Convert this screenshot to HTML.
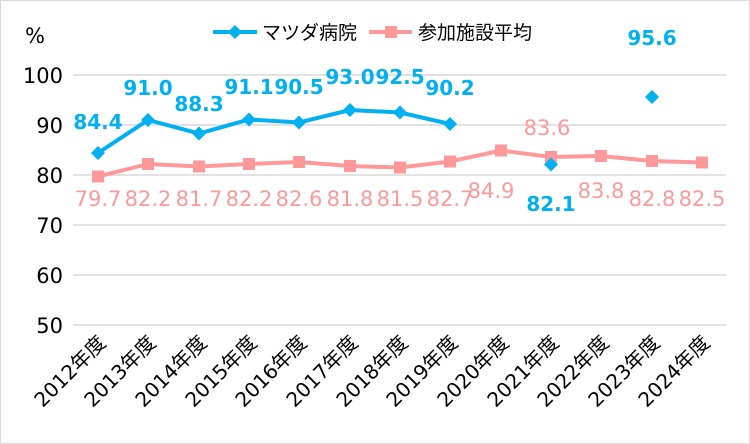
<!DOCTYPE html>
<html><head><meta charset="utf-8"><style>
html,body{margin:0;padding:0;background:#fff}
svg{display:block}
text{font-family:"DejaVu Sans","Noto Sans CJK JP",sans-serif}
</style></head><body>
<svg width="750" height="444" viewBox="0 0 750 444" xmlns="http://www.w3.org/2000/svg">
<rect x="0.5" y="0.5" width="749" height="443" fill="#fff" stroke="#d9d9d9"/>
<g stroke="#d9d9d9" stroke-width="1.5">
<line x1="73" y1="75" x2="726" y2="75"/><line x1="73" y1="125" x2="726" y2="125"/>
<line x1="73" y1="175" x2="726" y2="175"/><line x1="73" y1="225" x2="726" y2="225"/>
<line x1="73" y1="275" x2="726" y2="275"/><line x1="73" y1="325" x2="726" y2="325"/>
</g>
<g font-size="21" fill="#000" text-anchor="end">
<text x="63" y="83">100</text><text x="63" y="133">90</text><text x="63" y="183">80</text>
<text x="63" y="233">70</text><text x="63" y="283">60</text><text x="63" y="333">50</text>
<text x="45" y="43">%</text>
</g>
<!-- legend -->
<line x1="213" y1="32" x2="257" y2="32" stroke="#00b0f0" stroke-width="4"/>
<polygon points="235,25 242,32 235,39 228,32" fill="#00b0f0"/>
<text x="262" y="39" font-size="19">マツダ病院</text>
<line x1="369" y1="32" x2="412" y2="32" stroke="#ff9999" stroke-width="4"/>
<rect x="385" y="26" width="12" height="12" fill="#ff9999"/>
<text x="418" y="39" font-size="19">参加施設平均</text>
<!-- pink -->
<polyline fill="none" stroke="#ff9999" stroke-width="4" points="98,176.5 148,164 199,166.5 249,164 299,162 350,166 400,167.5 450,161.5 501,150.5 551,157 601,156 652,161 702,162.5"/>
<g fill="#ff9999">
<rect x="92" y="170.5" width="12" height="12"/><rect x="142" y="158" width="12" height="12"/><rect x="193" y="160.5" width="12" height="12"/><rect x="243" y="158" width="12" height="12"/><rect x="293" y="156" width="12" height="12"/><rect x="344" y="160" width="12" height="12"/><rect x="394" y="161.5" width="12" height="12"/><rect x="444" y="155.5" width="12" height="12"/><rect x="495" y="144.5" width="12" height="12"/><rect x="545" y="151" width="12" height="12"/><rect x="595" y="150" width="12" height="12"/><rect x="646" y="155" width="12" height="12"/><rect x="696" y="156.5" width="12" height="12"/>
</g>
<g fill="#ff9999" font-size="21" text-anchor="middle">
<text x="98" y="206">79.7</text><text x="148" y="206">82.2</text><text x="199" y="206">81.7</text><text x="249" y="206">82.2</text><text x="299" y="206">82.6</text><text x="350" y="206">81.8</text><text x="400" y="206">81.5</text><text x="450" y="206">82.7</text><text x="491" y="198">84.9</text><text x="547" y="135">83.6</text><text x="601" y="198">83.8</text><text x="652" y="206">82.8</text><text x="702" y="206">82.5</text>
</g>
<!-- blue -->
<polyline fill="none" stroke="#00b0f0" stroke-width="4" points="98,153 148,120 199,133.5 249,119.5 299,122.5 350,110 400,112.5 450,124"/>
<g fill="#00b0f0">
<polygon points="98,146 105,153 98,160 91,153"/><polygon points="148,113 155,120 148,127 141,120"/><polygon points="199,126.5 206,133.5 199,140.5 192,133.5"/><polygon points="249,112.5 256,119.5 249,126.5 242,119.5"/><polygon points="299,115.5 306,122.5 299,129.5 292,122.5"/><polygon points="350,103 357,110 350,117 343,110"/><polygon points="400,105.5 407,112.5 400,119.5 393,112.5"/><polygon points="450,117 457,124 450,131 443,124"/><polygon points="551,157.5 558,164.5 551,171.5 544,164.5"/><polygon points="652,90 659,97 652,104 645,97"/>
</g>
<g fill="#00b0f0" font-size="20" font-weight="bold" text-anchor="middle">
<text x="98" y="129">84.4</text><text x="148" y="95">91.0</text><text x="199" y="111">88.3</text><text x="249" y="94">91.1</text><text x="299" y="94">90.5</text><text x="350" y="84">93.0</text><text x="400" y="84">92.5</text><text x="450" y="95">90.2</text><text x="551" y="211">82.1</text><text x="652" y="45">95.6</text>
</g>
<!-- x labels -->
<g font-size="20" text-anchor="end" fill="#000">
<text transform="translate(107,344) rotate(-45)">2012年度</text>
<text transform="translate(157,344) rotate(-45)">2013年度</text>
<text transform="translate(208,344) rotate(-45)">2014年度</text>
<text transform="translate(258,344) rotate(-45)">2015年度</text>
<text transform="translate(308,344) rotate(-45)">2016年度</text>
<text transform="translate(359,344) rotate(-45)">2017年度</text>
<text transform="translate(409,344) rotate(-45)">2018年度</text>
<text transform="translate(459,344) rotate(-45)">2019年度</text>
<text transform="translate(510,344) rotate(-45)">2020年度</text>
<text transform="translate(560,344) rotate(-45)">2021年度</text>
<text transform="translate(610,344) rotate(-45)">2022年度</text>
<text transform="translate(661,344) rotate(-45)">2023年度</text>
<text transform="translate(711,344) rotate(-45)">2024年度</text>
</g>
</svg>
</body></html>
